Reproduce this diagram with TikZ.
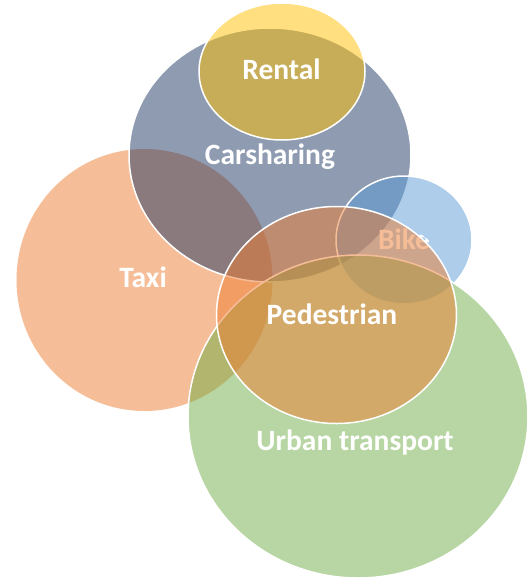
\documentclass[tikz,border=0pt]{standalone}
\usepackage{fontspec}
\setmainfont{Carlito}
\definecolor{taxicol}{HTML}{ED7D31}
\definecolor{carcol}{HTML}{203864}
\definecolor{rentcol}{HTML}{FFC000}
\definecolor{bikecol}{HTML}{5B9BD5}
\definecolor{urbancol}{HTML}{70AD47}
\definecolor{pedcol}{HTML}{ED7D31}
\begin{document}
\begin{tikzpicture}[x=1pt,y=-1pt,
  blob/.style={fill opacity=0.5, draw opacity=1, line width=1.5pt},
  lbl/.style={text=white, font=\fontsize{29.5}{34}\selectfont\bfseries, inner sep=0pt, anchor=base}]
\useasboundingbox (0,0) rectangle (530,587);
% Taxi
\fill[blob, fill=taxicol] (144.5,280) ellipse [x radius=128, y radius=131];
% Carsharing
\filldraw[blob, fill=carcol, draw=white] (270,155) ellipse [x radius=141, y radius=127];
% Rental
\filldraw[blob, fill=rentcol, draw=white] (282,71.5) ellipse [x radius=83, y radius=68.5];
% Bike
\filldraw[blob, fill=bikecol, draw=white] (404,240) ellipse [x radius=68, y radius=64];
\begin{scope}
\clip (336.5,315) ellipse [x radius=125, y radius=110];
\node[lbl] (bike) at (404,249.5) {Bike};
\end{scope}
% Urban transport
\filldraw[blob, fill=urbancol, draw=white] (358,416.5) ellipse [x radius=170, y radius=161.5];
% Pedestrian
\filldraw[blob, fill=pedcol, draw=white] (336.5,315) ellipse [x radius=120, y radius=108.5];
% Labels
\node[lbl] (rental) at (281.5,79) {Rental};
\node[lbl] (carsharing) at (270,164) {Carsharing};
\node[lbl] (taxi) at (143,287) {Taxi};
\node[lbl] (pedestrian) at (332,324) {Pedestrian};
\node[lbl] (urban) at (355,450) {Urban transport};
\end{tikzpicture}
\end{document}
